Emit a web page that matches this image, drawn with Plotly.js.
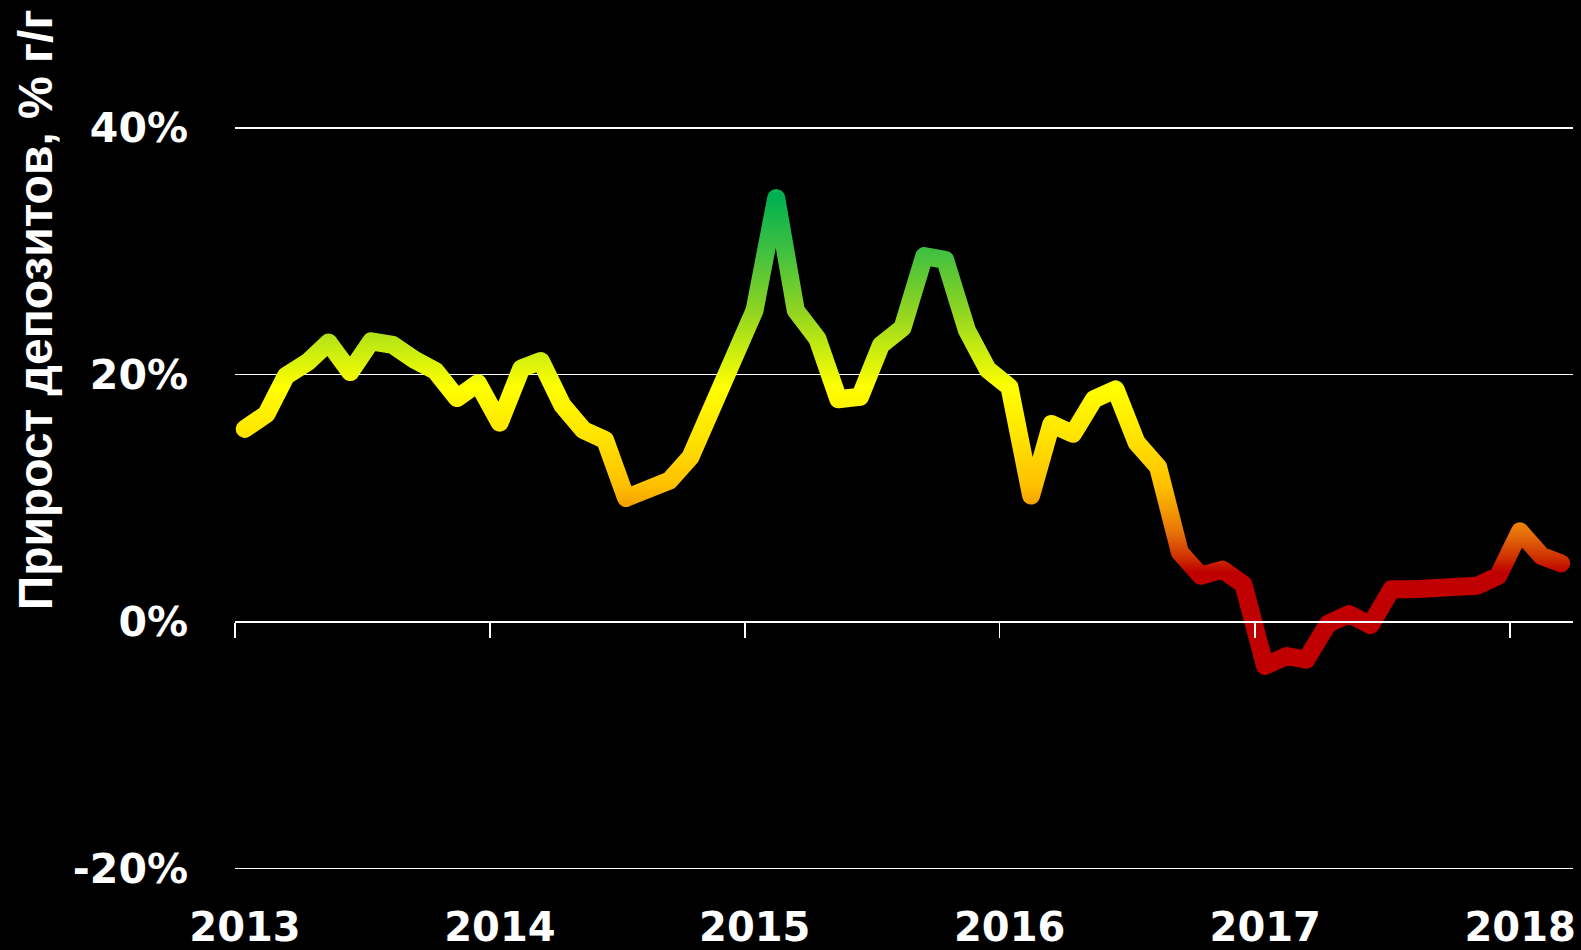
<!DOCTYPE html>
<html>
<head>
<meta charset="utf-8">
<script src="https://cdn.plot.ly/plotly-3.0.1.min.js"></script>
<style>
html,body{margin:0;padding:0;background:#000;}
#chart{width:1581px;height:950px;}
</style>
</head>
<body>
<div id="chart"></div>
<script>
// Monthly observations, Jan 2013 – Mar 2018
var months = [
  '2013-01','2013-02','2013-03','2013-04','2013-05','2013-06','2013-07','2013-08','2013-09','2013-10','2013-11','2013-12',
  '2014-01','2014-02','2014-03','2014-04','2014-05','2014-06','2014-07','2014-08','2014-09','2014-10','2014-11','2014-12',
  '2015-01','2015-02','2015-03','2015-04','2015-05','2015-06','2015-07','2015-08','2015-09','2015-10','2015-11','2015-12',
  '2016-01','2016-02','2016-03','2016-04','2016-05','2016-06','2016-07','2016-08','2016-09','2016-10','2016-11','2016-12',
  '2017-01','2017-02','2017-03','2017-04','2017-05','2017-06','2017-07','2017-08','2017-09','2017-10','2017-11','2017-12',
  '2018-01','2018-02','2018-03'
];
// Deposit growth, % y/y
var growth = [
  15.6, 16.8, 19.9, 21.0, 22.6, 20.2, 22.7, 22.4, 21.2, 20.3, 18.1, 19.3,
  16.1, 20.5, 21.1, 17.5, 15.5, 14.7, 10.0, 10.9, 11.4, 13.3, 17.6, 20.8,
  25.2, 34.3, 25.2, 22.9, 18.0, 18.2, 22.4, 23.8, 29.6, 29.3, 23.6, 20.4,
  19.0, 10.2, 16.0, 15.2, 18.0, 18.8, 14.5, 12.5, 5.6, 3.7, 4.2, 3.0,
  -3.6, -2.8, -3.1, -0.2, 0.6, -0.3, 2.6, 2.6, 2.6, 2.8, 2.9, 3.7,
  7.3, 5.3, 4.7
];
var yTicks = [-20, 0, 20, 40];
var yTitle = 'Прирост депозитов, % г/г';

// colour ramp by value (style)
var rampValues = [34.5, 30, 25, 22, 19, 15, 11, 8.5, 7, 5, 4];
var rampColors = ['#00b050','#40c040','#92d520','#c8ec10','#ffff00','#ffe400','#ffc000','#f09000','#e46c0a','#cc2a00','#c00000'];

var xs = months.map(function(m){ return m + '-15'; });

var trace = {
  x: xs, y: growth, type: 'scatter', mode: 'lines',
  line: {color: '#ffff00', width: 18, shape: 'linear'},
  hoverinfo: 'skip'
};

var layout = {
  width: 1581, height: 950,
  paper_bgcolor: '#000', plot_bgcolor: '#000',
  margin: {l: 235, r: 8, t: 66.33, b: 57.33, pad: 0},
  showlegend: false,
  xaxis: {
    type: 'date',
    range: ['2013-01-01', '2018-04-01'],
    anchor: 'free', position: 22/67,
    showgrid: false, zeroline: false,
    showline: true, linecolor: '#fff', linewidth: 1.6,
    ticks: 'outside', ticklen: 15, tickwidth: 1.6, tickcolor: '#fff',
    tick0: '2013-01-01', dtick: 'M12', tickformat: '%Y',
    tickfont: {family: 'DejaVu Sans', size: 40, color: '#fff', weight: 'bold'},
    ticklabelstandoff: 255, ticklabelshift: 10
  },
  yaxis: {
    range: [-22, 45],
    tickvals: yTicks, ticktext: yTicks.map(function(v){return v + '%';}),
    showgrid: true, gridcolor: '#fff', gridwidth: 1.6,
    zeroline: false, showline: false, ticks: '',
    tickfont: {family: 'DejaVu Sans', size: 41, color: '#fff', weight: 'bold'},
    ticklabelstandoff: 46
  },
  annotations: [{
    text: yTitle, xref: 'paper', yref: 'paper',
    x: (35.5 - 235) / 1338, y: (892.67 - 310) / 826.33,
    xanchor: 'center', yanchor: 'middle', textangle: -90, showarrow: false,
    font: {family: 'Liberation Sans', size: 48, color: '#fff', weight: 'bold'}
  }]
};

var gd = document.getElementById('chart');
Plotly.newPlot(gd, [trace], layout, {staticPlot: true, displayModeBar: false}).then(function(){
  var ya = gd._fullLayout.yaxis;
  var svg = gd.querySelector('svg.main-svg');
  var defs = svg.querySelector('defs');
  var NS = 'http://www.w3.org/2000/svg';
  var grad = document.createElementNS(NS, 'linearGradient');
  grad.setAttribute('id', 'valueRamp');
  grad.setAttribute('gradientUnits', 'userSpaceOnUse');
  var yTop = ya.l2p(rampValues[0]);
  var yBot = ya.l2p(rampValues[rampValues.length - 1]);
  grad.setAttribute('x1', 0); grad.setAttribute('x2', 0);
  grad.setAttribute('y1', yTop); grad.setAttribute('y2', yBot);
  for (var i = 0; i < rampValues.length; i++) {
    var st = document.createElementNS(NS, 'stop');
    var off = (ya.l2p(rampValues[i]) - yTop) / (yBot - yTop);
    st.setAttribute('offset', off);
    st.setAttribute('stop-color', rampColors[i]);
    grad.appendChild(st);
  }
  defs.appendChild(grad);
  var paths = gd.querySelectorAll('.scatterlayer .trace path.js-line');
  paths.forEach(function(p){
    p.style.stroke = 'url(#valueRamp)';
    p.style.strokeLinejoin = 'round';
    p.style.strokeLinecap = 'round';
  });
});
</script>
</body>
</html>
